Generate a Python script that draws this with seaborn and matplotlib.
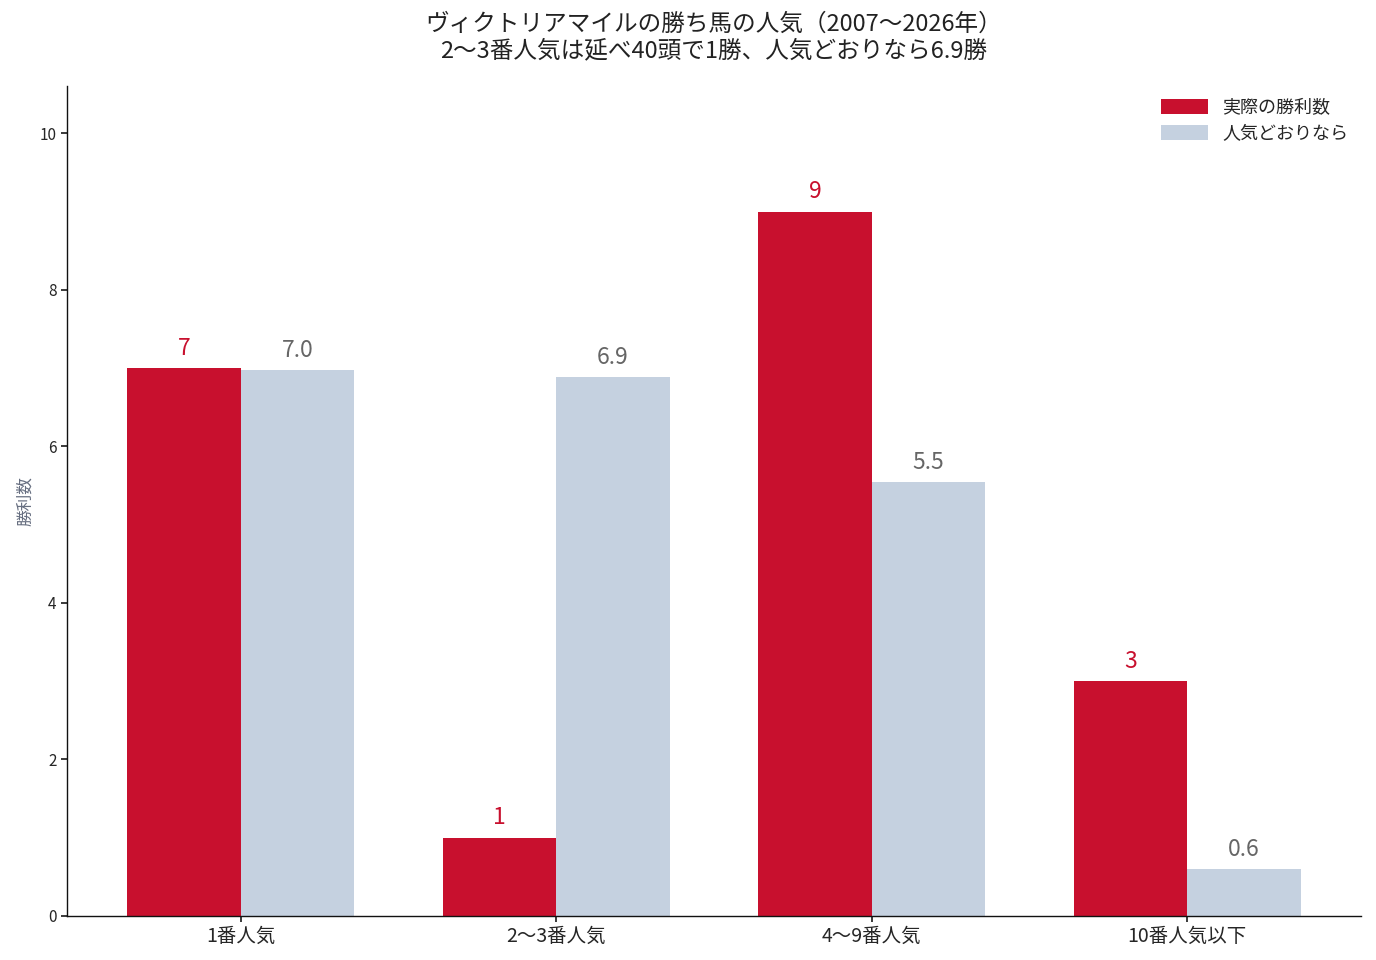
import matplotlib
matplotlib.use("Agg")
import matplotlib.pyplot as plt
import seaborn as sns
import pandas as pd

categories = ["1番人気", "2〜3番人気", "4〜9番人気", "10番人気以下"]
actual_wins = [7, 1, 9, 3]
expected_wins = [6.97, 6.88, 5.54, 0.60]
series_names = ["実際の勝利数", "人気どおりなら"]
title = "ヴィクトリアマイルの勝ち馬の人気（2007〜2026年）\n2〜3番人気は延べ40頭で1勝、人気どおりなら6.9勝"
ylabel = "勝利数"

sns.set_theme(style="white")
plt.rcParams['font.family'] = ['Noto Sans CJK JP', 'DejaVu Sans']

df = pd.DataFrame({
    "cat": categories * 2,
    "val": actual_wins + expected_wins,
    "series": [series_names[0]] * 4 + [series_names[1]] * 4,
})

red = "#C8102E"
blue = "#C5D1E0"

fig, ax = plt.subplots(figsize=(13.76, 9.6), dpi=100)
fig.subplots_adjust(left=0.0487, right=0.989, top=0.910, bottom=0.046)
sns.barplot(data=df, x="cat", y="val", hue="series", palette=[red, blue],
            width=0.72, gap=0, ax=ax, saturation=1, errorbar=None, linewidth=0)

for i, cont in enumerate(ax.containers):
    vals = actual_wins if i == 0 else expected_wins
    labels = [f"{v:d}" for v in vals] if i == 0 else [f"{v:.1f}" for v in vals]
    ax.bar_label(cont, labels=labels, padding=6, fontsize=16.5,
                 color=red if i == 0 else "#666666")

ax.set_xlim(-0.55, 3.55)
ax.set_ylim(0, 10.6)
ax.set_yticks([0, 2, 4, 6, 8, 10])
ax.set_xlabel("")
ax.set_ylabel(ylabel, color="#666e80", fontsize=12)
ax.tick_params(axis="x", labelsize=14, bottom=True, length=4, pad=3, color="#222222")
ax.tick_params(axis="y", labelsize=11, left=True, length=4, color="#222222")
ax.spines["top"].set_visible(False)
ax.spines["right"].set_visible(False)
for s in ["left", "bottom"]:
    ax.spines[s].set_color("#111111")
    ax.spines[s].set_linewidth(1.0)

ax.set_title(title, fontsize=17, color="#222222", pad=21, linespacing=1.2)
leg = ax.legend(loc="upper right", frameon=False, fontsize=13,
                handlelength=2.6, handleheight=0.9, labelspacing=0.4,
                borderaxespad=0.3, bbox_to_anchor=(1.0, 1.0))

fig.savefig("out.png", dpi=100)
